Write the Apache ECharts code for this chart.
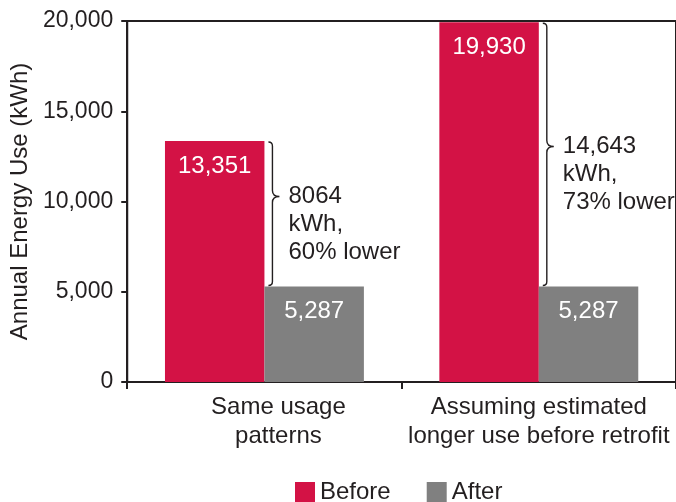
<!DOCTYPE html>
<html>
<head>
<meta charset="utf-8">
<script src="https://cdn.jsdelivr.net/npm/echarts@6/dist/echarts.min.js"></script>
<style>
  html, body { margin: 0; padding: 0; background: #fff; }
  #chart { width: 676px; height: 502px; }
</style>
</head>
<body>
<div id="chart"></div>
<script>
const categories = ['Same usage\npatterns', 'Assuming estimated\nlonger use before retrofit'];
const beforeValues = [13351, 19930];
const afterValues = [5287, 5287];
const savingsNotes = ['8064\nkWh,\n60% lower', '14,643\nkWh,\n73% lower'];
const yTickValues = [0, 5000, 10000, 15000, 20000];

const INK = '#231f20';
const RED = '#d31245';
const GREY = '#808080';
const FONT = "'Liberation Sans', Arial, Helvetica, sans-serif";

// where the brace's point sits along its span (0 = top, 1 = bottom)
const tipAt = [0.38, 0.47];

const fmt = v => Number(v).toLocaleString('en-US');

const chart = echarts.init(document.getElementById('chart'), null, { renderer: 'canvas' });

chart.setOption({
  animation: false,
  textStyle: { fontFamily: FONT, color: INK },
  grid: {
    left: 124, top: 21, width: 556, height: 361,
    show: true, borderColor: INK, borderWidth: 2, backgroundColor: 'transparent'
  },
  legend: {
    data: ['Before', 'After'],
    left: 290, top: 475,
    itemWidth: 20, itemHeight: 20, itemGap: 36,
    icon: 'rect',
    textStyle: { fontSize: 24, color: INK, fontFamily: FONT, padding: [0, 0, 0, 0] }
  },
  xAxis: {
    type: 'category',
    data: categories.map((c, i) => i === 0
      ? { value: c, textStyle: { padding: [0, 0, 0, 28] } }
      : c),
    axisLine: { lineStyle: { color: INK, width: 2 } },
    axisTick: { show: true, length: 7, lineStyle: { color: INK, width: 2 } },
    axisLabel: { fontSize: 24, color: INK, lineHeight: 29, margin: 11, fontFamily: FONT, interval: 0 },
    splitLine: { show: false }
  },
  yAxis: {
    type: 'value',
    min: 0, max: 20000, interval: 5000,
    name: 'Annual Energy Use (kWh)',
    nameLocation: 'middle',
    nameGap: 90,
    nameTextStyle: { fontSize: 24, color: INK, fontFamily: FONT },
    axisLine: { show: true, lineStyle: { color: INK, width: 2 } },
    axisTick: { show: true, length: 6, lineStyle: { color: INK, width: 2 } },
    axisLabel: {
      fontSize: 23, color: INK, margin: 14, fontFamily: FONT,
      formatter: v => yTickValues.includes(v) ? fmt(v) : ''
    },
    splitLine: { show: false }
  },
  series: [
    {
      name: 'Before',
      type: 'bar',
      data: beforeValues,
      barGap: '0%',
      barCategoryGap: '27.5%',
      itemStyle: { color: RED },
      label: {
        show: true, position: 'insideTop', distance: 13,
        color: '#fff', fontSize: 24, fontFamily: FONT,
        formatter: p => fmt(p.value)
      }
    },
    {
      name: 'After',
      type: 'bar',
      data: afterValues,
      itemStyle: { color: GREY },
      label: {
        show: true, position: 'insideTop', distance: 13,
        color: '#fff', fontSize: 24, fontFamily: FONT,
        formatter: p => fmt(p.value)
      }
    },
    {
      // curly brace spanning the drop from Before to After, with its note
      name: 'Savings',
      type: 'custom',
      silent: true,
      z: 5,
      data: beforeValues.map((b, i) => [i, b, afterValues[i]]),
      encode: { x: 0, y: 1 },
      renderItem: (params, api) => {
        const i = api.value(0);
        const top = api.coord([i, api.value(1)]);
        const bot = api.coord([i, api.value(2)]);
        const x = top[0] + 8;
        const y0 = top[1] + 1;
        const y1 = bot[1] - 1;
        const ym = y0 + (y1 - y0) * tipAt[i];
        const c = 4;
        const path =
          `M${x - c} ${y0} Q${x} ${y0} ${x} ${y0 + c} ` +
          `L${x} ${ym - c - 2} Q${x} ${ym} ${x + 7} ${ym} ` +
          `Q${x} ${ym} ${x} ${ym + c + 2} ` +
          `L${x} ${y1 - c} Q${x} ${y1} ${x - c} ${y1}`;
        return {
          type: 'group',
          children: [
            {
              type: 'path',
              shape: { pathData: path },
              style: { fill: 'none', stroke: INK, lineWidth: 1.4 }
            },
            {
              type: 'text',
              x: x + 16,
              y: ym - 14,
              style: {
                text: savingsNotes[i],
                fontSize: 24, fontFamily: FONT, fill: INK,
                lineHeight: 28, verticalAlign: 'top', align: 'left'
              }
            }
          ]
        };
      }
    }
  ]
});
</script>
</body>
</html>
